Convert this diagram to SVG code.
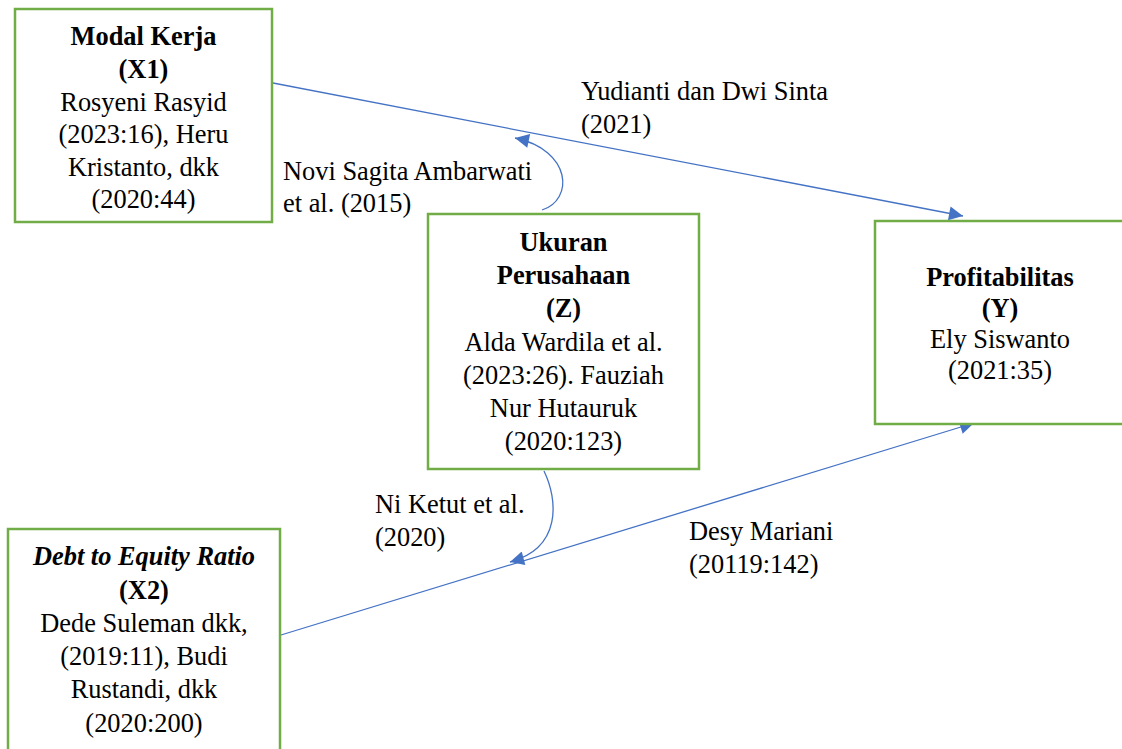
<svg xmlns="http://www.w3.org/2000/svg" width="1122" height="749" viewBox="0 0 1122 749">
<style>
.box{fill:#fff;stroke:#70AD47;stroke-width:2.5}
.t{font-family:"Liberation Serif","Times New Roman",serif;font-size:26.4px;fill:#000}
.c{text-anchor:middle}
.b{font-weight:bold}
.i{font-style:italic}
.ln{fill:none;stroke:#4472C4;stroke-width:1.3}
</style>
<defs>
<marker id="ah" viewBox="0 0 10 10" refX="10" refY="5" markerWidth="16" markerHeight="14" markerUnits="userSpaceOnUse" orient="auto">
<path d="M0,0 L10,5 L0,10 Z" fill="#4472C4"/>
</marker>
</defs>
<rect width="1122" height="749" fill="#fff"/>
<g id="connectors">
<path class="ln" d="M273,83 L963,216" marker-end="url(#ah)"/>
<path class="ln" d="M281,635 L974,423" marker-end="url(#ah)"/>
<path class="ln" d="M542,210 C574,200 572,150 515,138" marker-end="url(#ah)"/>
<path class="ln" d="M544,471 C558,500 562,548 510,562" marker-end="url(#ah)"/>
</g>
<g id="node-x1">
<rect class="box" x="15" y="9" width="257" height="213"/>
<text class="t c b" x="143.5" y="45">Modal Kerja</text>
<text class="t c b" x="143.5" y="77.5">(X1)</text>
<text class="t c" x="143.5" y="110.5">Rosyeni Rasyid</text>
<text class="t c" x="143.5" y="143">(2023:16), Heru</text>
<text class="t c" x="143.5" y="176">Kristanto, dkk</text>
<text class="t c" x="143.5" y="208">(2020:44)</text>
</g>
<g id="node-z">
<rect class="box" x="428" y="214" width="271" height="255"/>
<text class="t c b" x="563.5" y="251">Ukuran</text>
<text class="t c b" x="563.5" y="284">Perusahaan</text>
<text class="t c b" x="563.5" y="317">(Z)</text>
<text class="t c" x="563.5" y="351">Alda Wardila et al.</text>
<text class="t c" x="563.5" y="384">(2023:26). Fauziah</text>
<text class="t c" x="563.5" y="417">Nur Hutauruk</text>
<text class="t c" x="563.5" y="450">(2020:123)</text>
</g>
<g id="node-y">
<rect class="box" x="875" y="221" width="260" height="203"/>
<text class="t c b" x="1000" y="286">Profitabilitas</text>
<text class="t c b" x="1000" y="317">(Y)</text>
<text class="t c" x="1000" y="348">Ely Siswanto</text>
<text class="t c" x="1000" y="379">(2021:35)</text>
</g>
<g id="node-x2">
<rect class="box" x="8" y="529" width="272" height="240"/>
<text class="t c b i" x="144" y="565">Debt to Equity Ratio</text>
<text class="t c b" x="144" y="598.5">(X2)</text>
<text class="t c" x="144" y="632">Dede Suleman dkk,</text>
<text class="t c" x="144" y="665">(2019:11), Budi</text>
<text class="t c" x="144" y="698">Rustandi, dkk</text>
<text class="t c" x="144" y="731.5">(2020:200)</text>
</g>
<g id="labels">
<text class="t" x="581" y="100">Yudianti dan Dwi Sinta</text>
<text class="t" x="581" y="133">(2021)</text>
<text class="t" x="283" y="180">Novi Sagita Ambarwati</text>
<text class="t" x="283" y="212">et al. (2015)</text>
<text class="t" x="375" y="512.5">Ni Ketut et al.</text>
<text class="t" x="375" y="546">(2020)</text>
<text class="t" x="689" y="540">Desy Mariani</text>
<text class="t" x="689" y="573">(20119:142)</text>
</g>
</svg>
